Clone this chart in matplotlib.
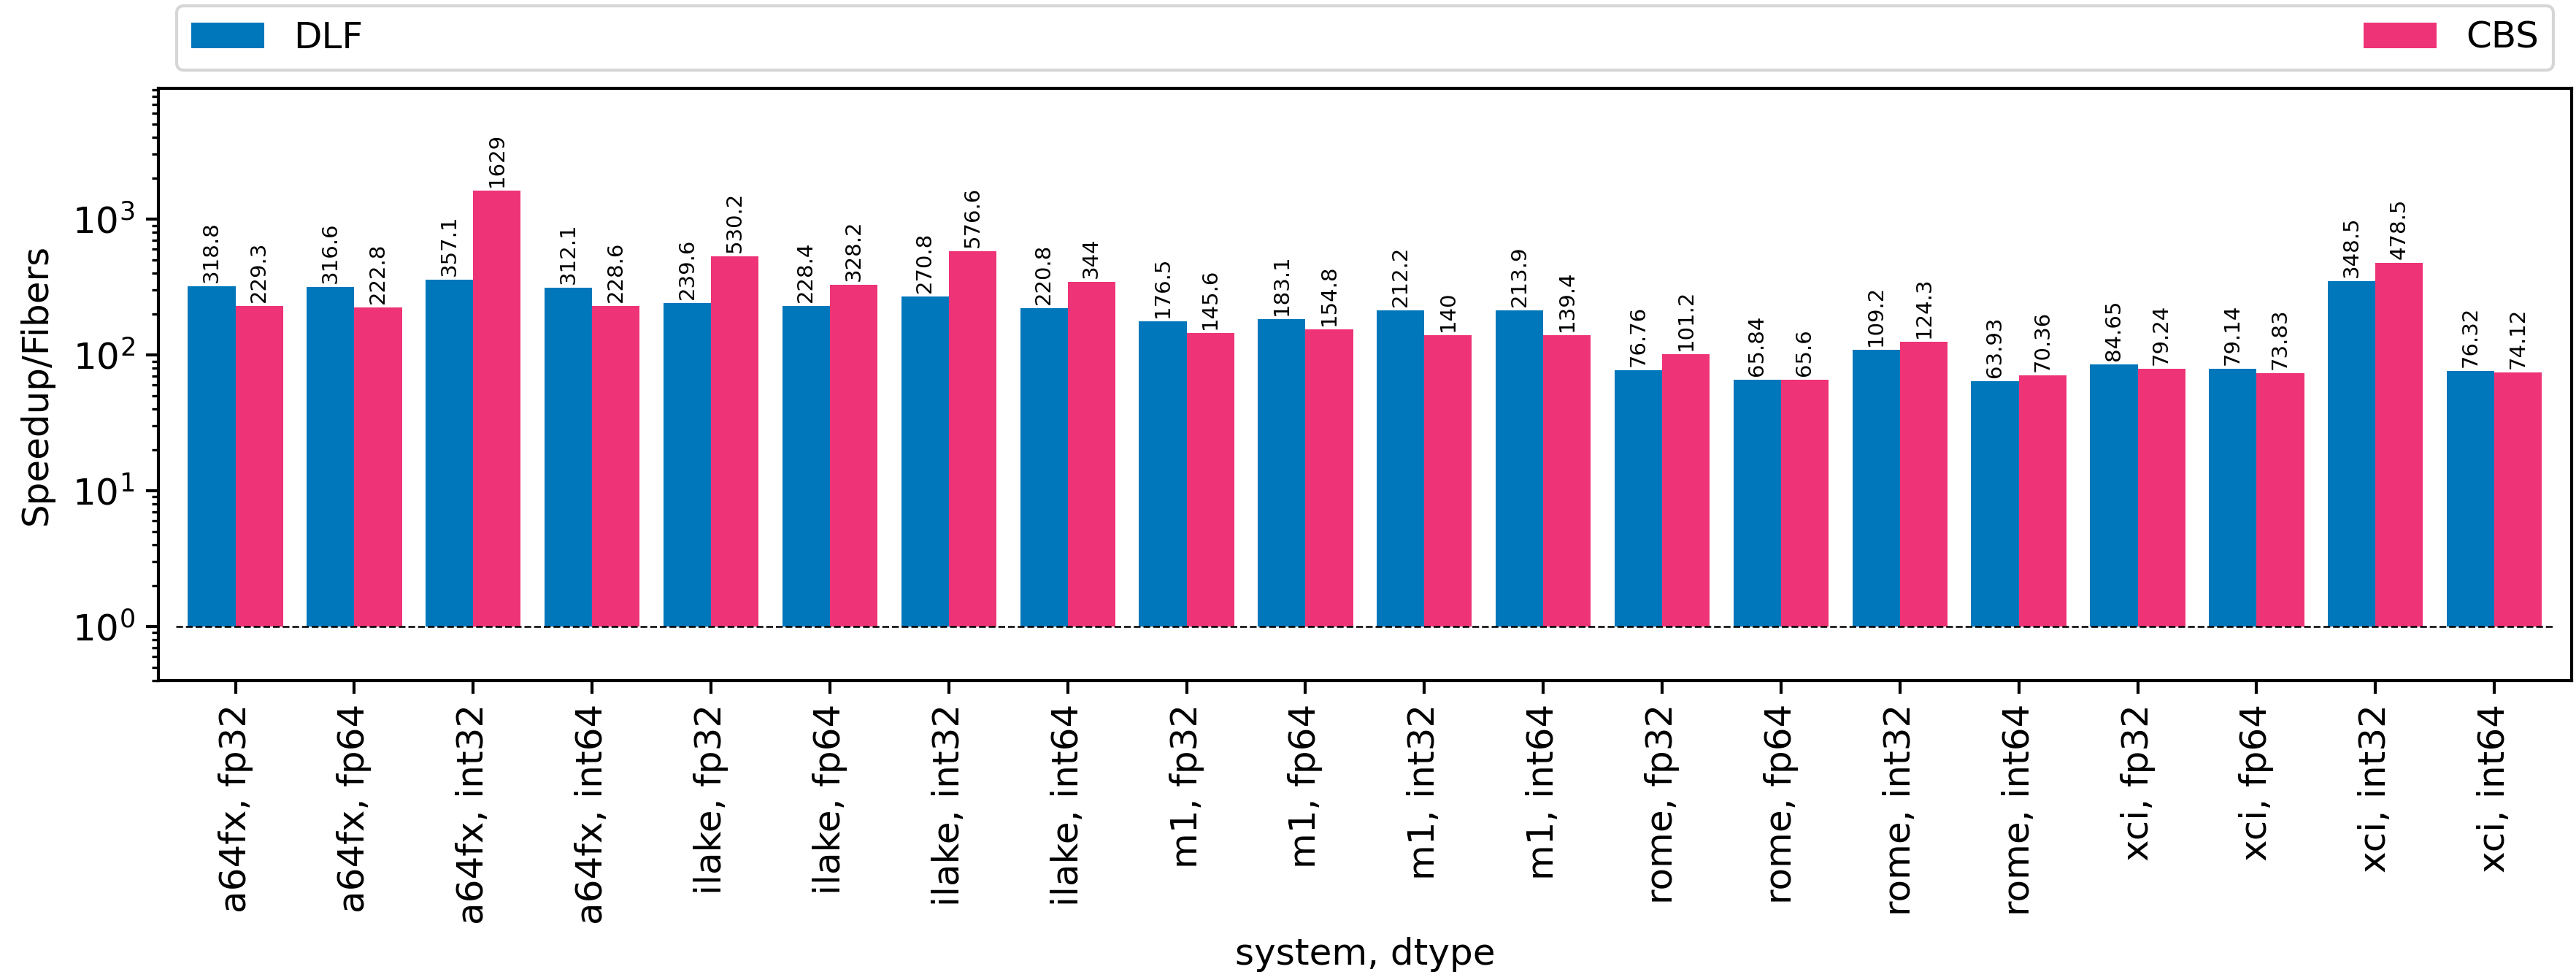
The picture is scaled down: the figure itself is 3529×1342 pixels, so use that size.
import numpy as np
import matplotlib
matplotlib.use("Agg")
import matplotlib.pyplot as plt

systems = ["a64fx", "ilake", "m1", "rome", "xci"]
dtypes = ["fp32", "fp64", "int32", "int64"]
categories = [f"{s}, {d}" for s in systems for d in dtypes]

dlf = [318.8, 316.6, 357.1, 312.1,
       239.6, 228.4, 270.8, 220.8,
       176.5, 183.1, 212.2, 213.9,
       76.76, 65.84, 109.2, 63.93,
       84.65, 79.14, 348.5, 76.32]
cbs = [229.3, 222.8, 1629, 228.6,
       530.2, 328.2, 576.6, 344,
       145.6, 154.8, 140, 139.4,
       101.2, 65.6, 124.3, 70.36,
       79.24, 73.83, 478.5, 74.12]

series = [("DLF", dlf, "#0077BB"), ("CBS", cbs, "#EE3377")]

plt.rcParams.update({
    "font.size": 12,
    "axes.linewidth": 1.0,
    "xtick.major.size": 4.2,
    "ytick.major.size": 4.2,
    "xtick.major.width": 1.0,
    "ytick.major.width": 1.0,
    "ytick.minor.size": 2.2,
    "ytick.minor.width": 0.8,
})

fig = plt.figure(figsize=(3529 / 300, 1342 / 300), dpi=300)
ax = fig.add_axes([216.7 / 3529, 1 - 932 / 1342,
                   (3523 - 216.7) / 3529, (932 - 121) / 1342])

x = np.arange(len(categories))
width = 0.4
base = 1.0  # log-scale bars start at 1
for i, (name, vals, color) in enumerate(series):
    vals = np.asarray(vals, dtype=float)
    offs = (i - 0.5) * width
    bars = ax.bar(x + offs, vals - base, width=width, bottom=base,
                  color=color, label=name)
    ax.bar_label(bars, labels=[f"{v:.4g}" for v in vals],
                 rotation=90, fontsize=7, padding=1.2)

ax.set_yscale("log")
ax.set_ylim(0.40, 9170)
ax.set_xlim(-0.65, len(categories) - 1 + 0.65)
ax.hlines(1, -0.5, len(categories) - 0.5, colors="black",
          linestyles="--", linewidth=0.6)

ax.set_xticks(x)
ax.set_xticklabels(categories, rotation=90)
ax.set_xlabel("system, dtype")
ax.set_ylabel("Speedup/Fibers", labelpad=6)

ax.legend(loc="lower left", bbox_to_anchor=(0, 1, 1, 0.1), mode="expand",
          ncol=2, fontsize=12)

fig.savefig("out.png", dpi=300)
